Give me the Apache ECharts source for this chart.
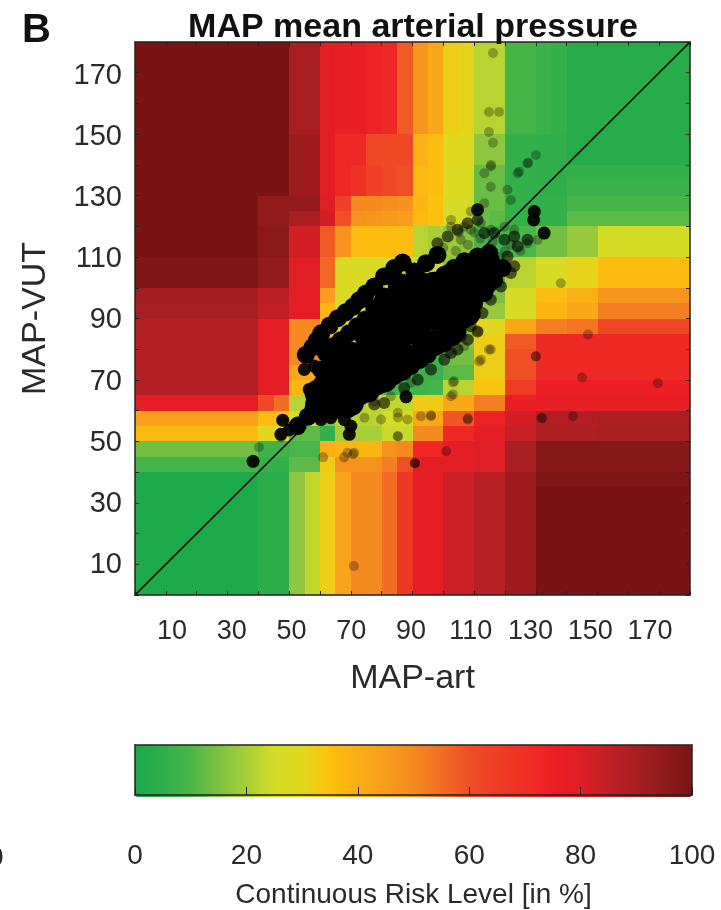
<!DOCTYPE html>
<html><head><meta charset="utf-8">
<style>html,body{margin:0;padding:0;background:#fff}#c{width:721px;height:910px}</style>
<script src="https://cdn.jsdelivr.net/npm/echarts@6/dist/echarts.min.js"></script>
</head><body><div id="c"></div>
<script>
const tickLabels = [10,30,50,70,90,110,130,150,170];
const barLabels = [0,20,40,60,80,100];
const riskColors = ['#1aa84b','#2fae4a','#4ab649','#7dc143','#a8cf38','#d3dc28','#e0d81f','#fdc00e','#fbaf16','#f89d1c','#f58a20','#f26e24','#ee4f25','#ee3e25','#ee3025','#ed1f24','#e01e25','#c01f26','#a81e22','#8f1a1c','#7a1414'];
const riskRows = [
[100,100,100,100,100,100,100,100,100,100,90,90,78,77,76,74,72,58,47,42,32,31,22,22,9,9,7,6,3,3,3,3,3,3,3,3],
[100,100,100,100,100,100,100,100,100,100,90,90,78,77,76,74,72,58,47,42,32,31,22,22,9,9,7,6,3,3,3,3,3,3,3,3],
[100,100,100,100,100,100,100,100,100,100,90,90,78,77,76,74,72,58,47,42,32,31,22,22,9,9,7,6,3,3,3,3,3,3,3,3],
[100,100,100,100,100,100,100,100,100,100,90,90,78,77,76,74,72,58,47,42,32,31,22,22,9,9,7,6,3,3,3,3,3,3,3,3],
[100,100,100,100,100,100,100,100,100,100,90,90,78,77,76,74,72,58,47,42,32,31,22,22,9,9,7,6,3,3,3,3,3,3,3,3],
[100,100,100,100,100,100,100,100,100,100,90,90,78,77,76,74,72,58,47,42,32,31,22,22,9,9,7,6,3,3,3,3,3,3,3,3],
[100,100,100,100,100,100,100,100,100,100,92,92,78,72,72,62,62,62,39,36,30,29,17,17,6,6,5,5,3,3,3,3,3,3,3,3],
[100,100,100,100,100,100,100,100,100,100,92,92,78,72,72,62,62,62,39,36,30,29,17,17,6,6,5,5,3,3,3,3,3,3,3,3],
[100,100,100,100,100,100,100,100,100,100,92,92,78,72,70,64,62,60,37,36,28,28,13,13,6,6,5,5,6,6,6,6,6,6,6,6],
[100,100,100,100,100,100,100,100,100,100,92,92,78,72,70,64,62,60,37,36,28,28,13,13,6,6,5,5,7,7,7,7,7,7,7,7],
[100,100,100,100,100,100,100,100,94,94,94,94,80,64,50,50,49,48,38,35,26,26,13,13,6,6,6,6,9,9,9,9,9,9,9,9],
[100,100,100,100,100,100,100,100,94,94,90,90,82,60,48,47,46,45,37,35,26,25,13,12,6,6,6,6,12,12,12,12,12,12,12,12],
[100,100,100,100,100,100,100,100,96,96,82,82,58,48,36,36,36,36,22,20,18,16,10,9,10,10,14,14,18,18,26,26,26,26,26,26],
[100,100,100,100,100,100,100,100,96,96,82,82,58,48,36,36,36,36,22,20,18,16,10,9,10,10,14,14,18,18,26,26,26,26,26,26],
[99,99,99,99,99,99,99,99,94,94,80,80,56,27,27,27,27,27,25,24,16,14,10,10,22,22,27,27,31,31,36,36,36,36,36,36],
[99,99,99,99,99,99,99,99,94,94,80,80,56,27,27,27,27,27,25,24,16,14,10,10,22,22,27,27,31,31,37,37,37,37,37,37],
[91,91,91,91,91,91,91,91,86,86,78,78,45,26,26,26,26,26,24,22,16,14,15,15,27,27,36,36,40,40,47,47,47,47,47,47],
[90,90,90,90,90,90,90,90,85,85,78,78,38,27,26,26,26,26,24,22,18,16,18,18,27,27,38,38,42,42,52,52,52,52,52,52],
[88,88,88,88,88,88,88,88,78,78,50,50,36,30,28,25,24,22,9,9,18,18,30,30,42,42,52,52,54,54,62,62,62,62,62,62],
[88,88,88,88,88,88,88,88,78,78,50,50,34,26,24,20,18,14,8,9,16,16,32,32,58,58,72,72,72,72,72,72,72,72,72,72],
[88,88,88,88,88,88,88,88,78,78,50,50,34,26,24,20,18,14,8,8,14,14,32,32,60,60,72,72,72,72,72,72,72,72,72,72],
[88,88,88,88,88,88,88,88,78,78,42,42,30,22,18,12,10,8,7,7,12,12,32,32,60,60,72,72,72,72,72,72,72,72,72,72],
[88,88,88,88,88,88,88,88,78,78,38,38,28,20,14,10,9,9,8,9,22,22,34,34,66,66,75,75,75,75,75,75,75,75,75,75],
[78,78,78,78,78,78,78,78,62,55,22,22,10,17,22,23,23,23,33,33,42,42,52,52,77,77,77,77,77,77,77,77,77,77,77,77],
[44,44,44,44,44,44,44,44,36,36,26,26,15,22,22,22,25,28,42,42,59,59,74,74,82,82,88,88,88,88,89,89,89,89,89,89],
[37,37,37,37,37,37,37,37,30,30,12,12,6,20,20,20,24,24,50,50,72,72,78,78,84,84,89,89,89,89,90,90,90,90,90,90],
[14,14,14,14,14,14,14,14,8,8,10,10,40,38,38,38,48,50,72,72,79,79,80,80,90,90,97,97,97,97,97,97,97,97,97,97],
[9,9,9,9,9,9,9,9,6,6,12,12,33,48,48,48,52,60,78,78,79,79,80,80,90,90,97,97,97,97,97,97,97,97,97,97],
[1,1,1,1,1,1,1,1,4,4,17,23,32,43,50,50,55,68,78,78,83,83,87,87,92,92,99,99,99,99,99,99,99,99,99,99],
[1,1,1,1,1,1,1,1,4,4,17,23,32,43,50,50,55,68,78,78,83,83,87,87,92,92,100,100,100,100,100,100,100,100,100,100],
[1,1,1,1,1,1,1,1,4,4,17,23,32,43,50,50,55,68,78,78,83,83,87,87,92,92,100,100,100,100,100,100,100,100,100,100],
[1,1,1,1,1,1,1,1,4,4,17,23,32,43,50,50,55,68,78,78,83,83,87,87,92,92,100,100,100,100,100,100,100,100,100,100],
[1,1,1,1,1,1,1,1,4,4,17,23,32,43,50,50,55,68,78,78,83,83,87,87,92,92,100,100,100,100,100,100,100,100,100,100],
[1,1,1,1,1,1,1,1,4,4,17,23,32,43,50,50,55,68,78,78,83,83,87,87,92,92,100,100,100,100,100,100,100,100,100,100],
[1,1,1,1,1,1,1,1,4,4,17,23,32,43,50,50,55,68,78,78,83,83,87,87,92,92,100,100,100,100,100,100,100,100,100,100],
[1,1,1,1,1,1,1,1,4,4,17,23,32,43,50,50,55,68,78,78,83,83,87,87,92,92,100,100,100,100,100,100,100,100,100,100]
];
const binWidth = 5;
const corePoints = [
[59.2,65.8],[59.2,60.4],
[64.6,77.7],[64.6,72.3],[64.6,67],[64.6,61.5],
[70,78.2],[70,72.8],[70,67.4],[70,62.5],
[75.4,84.2],[75.4,78.8],[75.4,73.4],[75.4,66.9],
[80.8,94],[80.8,88.5],[80.8,83.1],[80.8,77.7],[80.8,70.1],
[86.2,100.4],[86.2,95],[86.2,89.6],[86.2,84.2],[86.2,78.8],[86.2,73.8],
[91.7,101.5],[91.7,96.1],[91.7,90.7],[91.7,85.3],[91.7,77.7],
[97.1,101],[97.1,95.6],[97.1,90.2],[97.1,82],
[102.5,103.7],[102.5,98.3],[102.5,92.9],[102.5,85.2],
[107.9,106.4],[107.9,101],[107.9,96],[107.9,91.8],
[113.3,105],[113.3,101.5]
];
const rimPoints = [
[55.4,78.2],[57.6,80.7],[59,82.9],[60.4,85.2],[63.1,87.7],[65.8,90.1],[68.3,92],[70.7,93.8],[72.7,95.9],[74.9,98.1],[77.6,100.4],[80.8,103.7],[84.1,106.4],[86.8,108.2],
[61.9,78.8],[64.1,81],[66.7,82.9],[69.4,85.2],[72.1,87.5],[74.8,89.7],[77.6,93.4],[80.8,97.2],
[60.3,73.4],[60.8,69],[58.1,62.5],[52.7,55],[56,58],[59,61],
[65.2,60.4],[69,60.4],[73.3,64.7],[78.7,68],[84.1,71.2],[89.5,74.5],[94.9,78.2],[100.3,82],[104.6,85.8],[106.8,89.6],[110,95],[113.3,98.3],[116.5,102.6],[119.2,106.4],[115.4,109.1],
[90.6,105.3],[94.4,108],[98.1,110.7],[96,102.1],[100.3,104.2],[103.5,106.4],[106.8,108.6],[111.1,110.2],[114.9,111.3]
];
const edgePoints = [
[54.9,73.4],[58.1,74.5],[56.5,66.9],
[47.3,52.3],[50,53.7],[52.7,56],[55.4,58.2],[58.1,59.8],[60.3,57.1],[47.9,56.9],
[67.9,57.1],[70,55],[69.5,52.3],
[63.5,57.7],[87.9,64.5],
[111.1,125.4],[129.5,124.8],[129.3,122.1],[132.7,117.8],
[38.3,43.5]
];
const fringePoints = [
[98.1,114.5],[101.4,116.7],[104.6,118.9],[107.9,121],[111.1,122.1],[113.3,117.8],[116.5,117.8],[119.8,115.6],[123,116.7],[124.1,113.4],[127.3,115.6],[120.8,110.2],[123,107],
[107.9,83.1],[111.1,85.8],[104.6,79.9],[100.3,76.6],[96,73.4],[91.7,70.1],[87.3,67.4],[80.8,62.5],[77.6,62],[115.4,96.1],[118.7,100.4],[121.9,104.8],[108.9,87.5],[102.5,78.8],[105.7,84.2],[112.7,91.8]
];
const faintPoints = [
[102.5,119.9],[106.8,119.9],[115.4,132.9],[115.4,139.5],[120.8,131.9],[121.9,128.6],[124.1,137.3],[127.3,140.5],[130,143.2],[113.3,137.3],[108.9,124.8],[113.3,127.5],[119.8,119.9],[123,118.9],[127.3,114.5],[130.6,115.6],[102.5,122.1],[105.7,115.6],[108.9,118.9],[115.4,118.9],[112.2,121],
[100,113],[104,112],[108,114],[112,116],[116,115],[120,112],[122,114],[125,112],[118,110],[110,118],[105,118],
[98.1,79.9],[101.4,78.8],[103.5,69.6],[102.5,64.7],[112.2,76.6],[115.4,79.9],[111.1,85.8],[106.8,81],[89.5,69],[85.2,59.3],[85.2,51.7],[74.4,57.7],[79.8,57.1],[88.4,57.1],[96,58.2],[92.7,58.2],[107.9,57.1],[132.2,57.7],[130,77.7],[138.1,101.5],[68.9,46.3],[71.1,46.3],[83,64.7],[77.6,63.1],
[116.1,176.4],[114.8,157.2],[118.1,157.2],[114.8,150.7],[116.1,147.2],[115.5,140],[127.5,140.7],[124.6,137.8],
[130,77.6],[145,70.8],[169.6,68.9],[146.9,84.8],[131.7,57.5],[142.1,58.2],[108,57.5],[96,58.5],[100.9,46.8],[111.6,76],[114.8,79.9],[103.1,69.2],[103.1,65.3],[71,9.4],[47.4,51.3],[48,56.9],[85.3,51.7],[85.3,57.8],[61,44.8],[67.8,44.8],[70.7,45.8],[40.2,48.1],
[90.8,42.9],[90.8,42.9],[90.8,42.9]
];
const identityLine = [[0,0],[180,180]];

const cells = [];
riskRows.forEach((row, r) => row.forEach((v, c) => cells.push([c * binWidth, (riskRows.length - 1 - r) * binWidth, v])));
const ink = '#222';
const plotAxis = (pos) => ({
  type:'value', min:0, max:180, interval:10, position:pos, z:5, silent:true,
  axisLine:{show:true,onZero:false,lineStyle:{color:ink,width:1.5}},
  axisTick:{show:true,inside:true,length:4,lineStyle:{color:ink,width:1}},
  axisLabel:{show:false}, splitLine:{show:false}
});
const barAxis = (pos, extra) => Object.assign({
  type:'value', min:0, max:100, gridIndex:1, position:pos, z:10, silent:true,
  axisLine:{show:true,onZero:false,lineStyle:{color:ink,width:1.5}},
  axisTick:{show:false}, axisLabel:{show:false}, splitLine:{show:false}
}, extra||{});
const labelFont = {fontFamily:'Liberation Sans',color:'#2a2a2a'};
const chart = echarts.init(document.getElementById('c'), null, {renderer:'canvas'});
chart.setOption({
  animation:false,
  backgroundColor:'#fff',
  title:[
    {text:'MAP mean arterial pressure',left:413,textAlign:'center',top:11,padding:0,textStyle:{fontFamily:'Liberation Sans',fontWeight:'bold',fontSize:34,color:'#111'}},
    {text:'B',left:22,top:11,padding:0,textStyle:{fontFamily:'Liberation Sans',fontWeight:'bold',fontSize:40,color:'#111'}},
    {text:'0',left:-12,top:844,padding:0,textStyle:{fontFamily:'Liberation Sans',fontWeight:'normal',fontSize:28,color:'#2a2a2a'}}
  ],
  grid:[
    {left:135,top:42,width:555,height:553},
    {left:135,top:745,width:557,height:52}
  ],
  visualMap:{type:'continuous',min:0,max:100,dimension:2,seriesIndex:0,orient:'horizontal',left:135,top:745,itemWidth:52,itemHeight:557,padding:0,calculable:false,realtime:false,hoverLink:false,text:null,inRange:{color:riskColors}},
  xAxis:[
    plotAxis('bottom'),
    plotAxis('top'),
    {type:'value',min:-2.38,max:183.39,position:'bottom',silent:true,axisLine:{show:false},axisTick:{show:false},splitLine:{show:false},
     axisLabel:{customValues:tickLabels,margin:23,fontSize:27,...labelFont},
     name:'MAP-art',nameLocation:'middle',nameGap:67,nameTextStyle:{fontSize:34,...labelFont}},
    barAxis('bottom',{interval:20,axisTick:{show:true,inside:true,length:8,lineStyle:{color:ink,width:1}},
     axisLabel:{show:true,customValues:barLabels,margin:47,fontSize:28,...labelFont},
     name:'Continuous Risk Level [in %]',nameLocation:'middle',nameGap:86,nameTextStyle:{fontSize:28,...labelFont}}),
    barAxis('top')
  ],
  yAxis:[
    plotAxis('left'),
    plotAxis('right'),
    {type:'value',min:0.18,max:181.1,position:'left',silent:true,axisLine:{show:false},axisTick:{show:false},splitLine:{show:false},
     axisLabel:{customValues:tickLabels,margin:13,fontSize:29,...labelFont},
     name:'MAP-VUT',nameLocation:'middle',nameGap:82,nameRotate:90,nameTextStyle:{fontSize:34,...labelFont}},
    barAxis('left',{min:0,max:1}),
    barAxis('right',{min:0,max:1})
  ],
  series:[
    {type:'custom',xAxisIndex:0,yAxisIndex:0,data:cells,silent:true,z:1,clip:true,encode:{x:0,y:1},
     renderItem:(params, api) => {
       const a = api.coord([api.value(0), api.value(1) + binWidth]);
       const b = api.coord([api.value(0) + binWidth, api.value(1)]);
       const x = Math.round(a[0]), y = Math.round(a[1]);
       return {type:'rect',shape:{x:x,y:y,width:Math.round(b[0]) - x,height:Math.round(b[1]) - y},style:{fill:api.visual('color')}};
     }},
    {type:'line',xAxisIndex:0,yAxisIndex:0,data:identityLine,showSymbol:false,silent:true,z:2,lineStyle:{color:'#000',width:1.6}},
    {type:'scatter',xAxisIndex:0,yAxisIndex:0,data:faintPoints,symbolSize:10,silent:true,z:3,itemStyle:{color:'#000',opacity:0.28}},
    {type:'scatter',xAxisIndex:0,yAxisIndex:0,data:fringePoints,symbolSize:12,silent:true,z:3,itemStyle:{color:'#000',opacity:0.6}},
    {type:'scatter',xAxisIndex:0,yAxisIndex:0,data:edgePoints,symbolSize:13,silent:true,z:4,itemStyle:{color:'#000',opacity:0.92}},
    {type:'scatter',xAxisIndex:0,yAxisIndex:0,data:rimPoints,symbolSize:18,silent:true,z:4,itemStyle:{color:'#000',opacity:1}},
    {type:'scatter',xAxisIndex:0,yAxisIndex:0,data:corePoints,symbolSize:26,silent:true,z:4,itemStyle:{color:'#000',opacity:1}}
  ]
});
</script></body></html>
